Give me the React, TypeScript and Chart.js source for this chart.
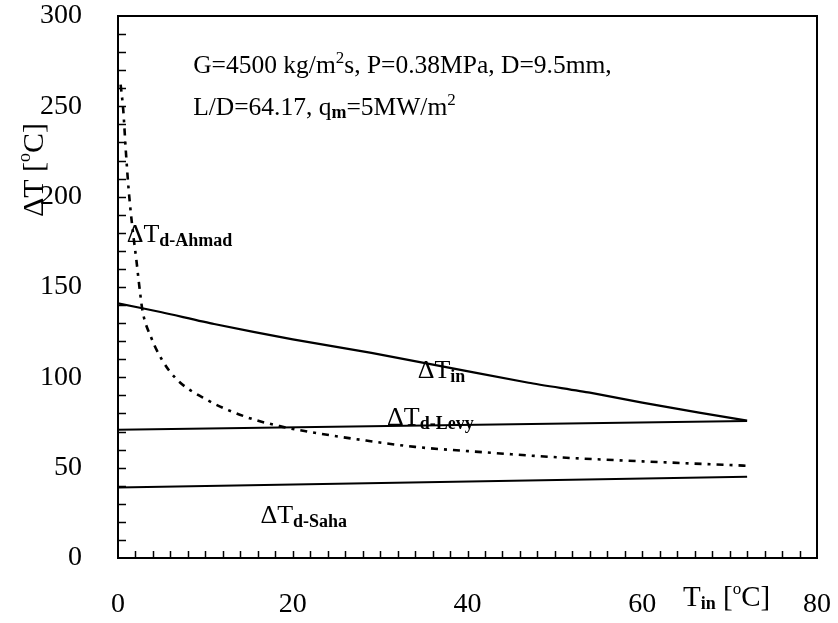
import React, { useEffect, useRef } from 'react';
import { Chart, registerables } from 'chart.js';

Chart.register(...registerables);

// ---- data ----
const tinX = [0, 5, 11, 20, 29, 35, 47, 54, 60, 66.5, 72];
const tinY = [141, 136, 129.5, 121, 113.5, 108, 97, 91.5, 86, 80.5, 76];

const levyX = [0, 72];
const levyY = [71, 75.8];

const sahaX = [0, 72];
const sahaY = [39, 45];

const ahmadX = [0.3, 0.6, 0.9, 1.2, 1.6, 2.1, 2.5, 2.8, 3.8, 5, 6.7, 10.2, 14.7, 18.5, 22.3, 28.4, 34, 42, 49.4, 60, 72.3];
const ahmadY = [262, 248, 225, 205, 185, 165, 148, 137, 122, 110, 99, 87.5, 78, 73, 69.5, 65, 61.5, 58.5, 56, 53.5, 51];

const xTickLabels = [0, 20, 40, 60, 80];
const yTickLabels = [0, 50, 100, 150, 200, 250, 300];

const FONT = '"Liberation Serif", "Times New Roman", serif';

type Part = { t: string; size: number; dy?: number; bold?: boolean };

function drawParts(ctx: CanvasRenderingContext2D, x: number, y: number, parts: Part[]) {
  let cx = x;
  for (const p of parts) {
    ctx.font = `${p.bold ? 'bold ' : ''}${p.size}px ${FONT}`;
    ctx.fillText(p.t, cx, y + (p.dy || 0));
    cx += ctx.measureText(p.t).width;
  }
}

const MAIN = 26;
const SUB = 18;
const TICK = 28;

const labelParts = (sub: string): Part[] => [
  { t: 'ΔT', size: MAIN },
  { t: sub, size: SUB, dy: 4, bold: true },
];

const decorPlugin = {
  id: 'decor',
  afterDraw(chart: any) {
    const ctx: CanvasRenderingContext2D = chart.ctx;
    const { left, right, top, bottom } = chart.chartArea;
    const xs = chart.scales.x;
    const ys = chart.scales.y;
    ctx.save();
    ctx.strokeStyle = '#000';
    ctx.fillStyle = '#000';
    // frame
    ctx.lineWidth = 2;
    ctx.strokeRect(left, top, right - left, bottom - top);
    // inner ticks
    ctx.lineWidth = 1.5;
    ctx.beginPath();
    for (let v = 10; v < 300; v += 10) {
      const py = Math.round(ys.getPixelForValue(v)) + 0.5;
      ctx.moveTo(left, py);
      ctx.lineTo(left + 8, py);
    }
    for (let v = 2; v < 80; v += 2) {
      const px = Math.round(xs.getPixelForValue(v)) + 0.5;
      ctx.moveTo(px, bottom);
      ctx.lineTo(px, bottom - 7);
    }
    ctx.stroke();

    ctx.textBaseline = 'alphabetic';
    ctx.textAlign = 'left';
    const P = (x: number, y: number) => [xs.getPixelForValue(x), ys.getPixelForValue(y)];

    // parameters text
    let [px, py] = P(8.6, 268.4);
    drawParts(ctx, px, py, [
      { t: 'G=4500 kg/m', size: 25.5 },
      { t: '2', size: 17, dy: -10 },
      { t: 's, P=0.38MPa, D=9.5mm,', size: 25.5 },
    ]);
    [px, py] = P(8.6, 245);
    drawParts(ctx, px, py, [
      { t: 'L/D=64.17, q', size: 25.5 },
      { t: 'm', size: SUB, dy: 3, bold: true },
      { t: '=5MW/m', size: 25.5 },
      { t: '2', size: 17, dy: -10 },
    ]);

    // curve labels
    [px, py] = P(1.0, 175);
    drawParts(ctx, px, py, labelParts('d-Ahmad'));
    [px, py] = P(34.3, 99.6);
    drawParts(ctx, px, py, labelParts('in'));
    [px, py] = P(30.8, 73.6);
    drawParts(ctx, px, py, labelParts('d-Levy'));
    [px, py] = P(16.3, 19.4);
    drawParts(ctx, px, py, labelParts('d-Saha'));

    // x axis title
    drawParts(ctx, 683, 606, [
      { t: 'T', size: 29 },
      { t: 'in', size: SUB, dy: 3, bold: true },
      { t: ' [', size: 29 },
      { t: 'o', size: 17, dy: -12 },
      { t: 'C]', size: 29 },
    ]);

    // y axis title (rotated)
    ctx.translate(43, 217);
    ctx.rotate(-Math.PI / 2);
    drawParts(ctx, 0, 0, [
      { t: 'ΔT [', size: 30 },
      { t: 'o', size: 18, dy: -13 },
      { t: 'C]', size: 30 },
    ]);
    ctx.restore();
  },
};

const zeroPad = (s: any) => {
  s.paddingTop = 0;
  s.paddingBottom = 0;
  s.paddingLeft = 0;
  s.paddingRight = 0;
};

export default function App() {
  const ref = useRef<HTMLCanvasElement | null>(null);

  useEffect(() => {
    if (!ref.current) return;
    const mk = (xs: number[], ys: number[]) => xs.map((x, i) => ({ x, y: ys[i] }));
    const chart = new Chart(ref.current, {
      type: 'line',
      data: {
        datasets: [
          {
            data: mk(tinX, tinY),
            borderColor: '#000',
            borderWidth: 2.2,
            pointRadius: 0,
            tension: 0.2,
          },
          {
            data: mk(levyX, levyY),
            borderColor: '#000',
            borderWidth: 2,
            pointRadius: 0,
          },
          {
            data: mk(sahaX, sahaY),
            borderColor: '#000',
            borderWidth: 2,
            pointRadius: 0,
          },
          {
            data: mk(ahmadX, ahmadY),
            borderColor: '#000',
            borderWidth: 2.6,
            borderDash: [7, 6, 3, 6],
            pointRadius: 0,
            cubicInterpolationMode: 'monotone',
          },
        ] as any,
      },
      plugins: [decorPlugin],
      options: {
        animation: false,
        responsive: false,
        devicePixelRatio: 1,
        layout: { padding: { left: 0, top: 16, right: 21, bottom: 0 } },
        plugins: {
          legend: { display: false },
          tooltip: { enabled: false },
        },
        scales: {
          x: {
            type: 'linear',
            min: 0,
            max: 80,
            afterBuildTicks: (s: any) => {
              s.ticks = xTickLabels.map((v) => ({ value: v }));
            },
            afterFit: (s: any) => {
              s.height = 65;
              zeroPad(s);
            },
            ticks: {
              color: '#000',
              font: { family: FONT, size: TICK },
              padding: 22,
              maxRotation: 0,
              autoSkip: false,
            },
            grid: { display: false },
            border: { display: false },
          },
          y: {
            type: 'linear',
            min: 0,
            max: 300,
            afterBuildTicks: (s: any) => {
              s.ticks = yTickLabels.map((v) => ({ value: v }));
            },
            afterFit: (s: any) => {
              s.width = 118;
              zeroPad(s);
            },
            ticks: {
              color: '#000',
              font: { family: FONT, size: TICK },
              padding: 28,
              autoSkip: false,
            },
            grid: { display: false },
            border: { display: false },
          },
        },
      } as any,
    });
    return () => chart.destroy();
  }, []);

  return (
    <div style={{ position: 'fixed', left: 0, top: 0, width: 838, height: 623, background: '#fff' }}>
      <canvas ref={ref} width={838} height={623} style={{ display: 'block' }} />
    </div>
  );
}
